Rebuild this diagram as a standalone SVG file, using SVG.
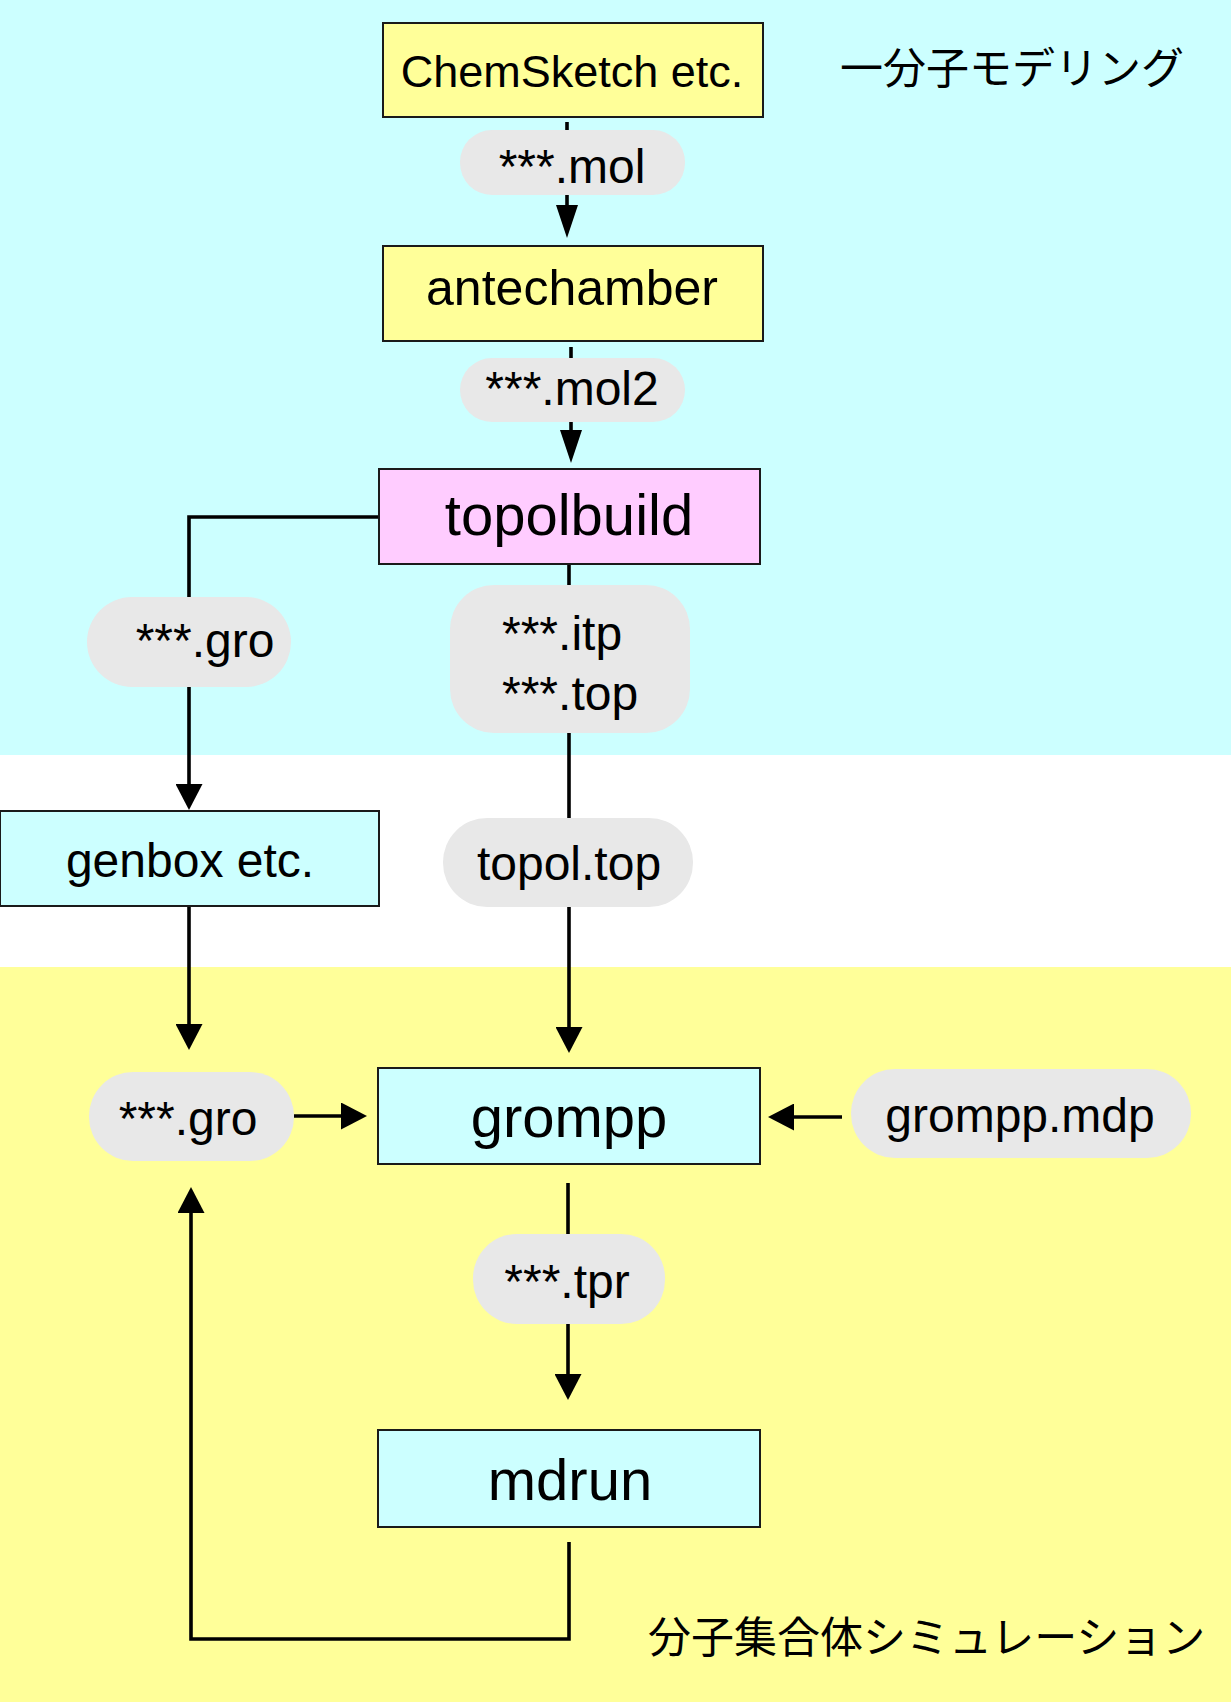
<svg xmlns="http://www.w3.org/2000/svg" width="1231" height="1702" viewBox="0 0 1231 1702">
<style>
.box{stroke:#1a1a1a;stroke-width:2}
.y{fill:#FFFF99}.c{fill:#CCFFFF}.p{fill:#FFCCFF}
.pill{fill:#E8E8E8}
text{font-family:"Liberation Sans",Arial,sans-serif;fill:#000}
.t48{font-size:48px}.t45{font-size:45px}.t50{font-size:50px}.t58{font-size:58px}
.jp{font-family:"Noto Sans CJK JP","Liberation Sans",sans-serif;font-size:43px}
.ln{fill:none;stroke:#000;stroke-width:3.6}
</style>
<defs>
<marker id="aL" viewBox="0 0 33 22" refX="23" refY="11" markerWidth="33" markerHeight="22" orient="auto" markerUnits="userSpaceOnUse"><path d="M0,0 L33,11 L0,22 z" fill="#000"/></marker>
<marker id="aS" viewBox="0 0 26 27" refX="16" refY="13.5" markerWidth="26" markerHeight="27" orient="auto" markerUnits="userSpaceOnUse"><path d="M0,0 L26,13.5 L0,27 z" fill="#000"/></marker>
</defs>
<g id="bands">
<rect x="0" y="0" width="1231" height="755" fill="#CCFFFF"/>
<rect x="0" y="755" width="1231" height="212" fill="#FFFFFF"/>
<rect x="0" y="967" width="1231" height="735" fill="#FFFF99"/>
<text class="jp" x="840" y="84">一分子モデリング</text>
<text class="jp" x="648" y="1653">分子集合体シミュレーション</text>
</g>
<g id="connectors">
<path class="ln" d="M567,122 V228" marker-end="url(#aL)"/>
<path class="ln" d="M571,347 V453" marker-end="url(#aL)"/>
<path class="ln" d="M379,517 H189 V800" marker-end="url(#aS)"/>
<path class="ln" d="M569,564 V1043" marker-end="url(#aS)"/>
<path class="ln" d="M189,906 V1040" marker-end="url(#aS)"/>
<path class="ln" d="M294,1116 H357" marker-end="url(#aS)"/>
<path class="ln" d="M842,1117 H778" marker-end="url(#aS)"/>
<path class="ln" d="M568,1183 V1390" marker-end="url(#aS)"/>
<path class="ln" d="M569,1542 V1639 H191 V1197" marker-end="url(#aS)"/>
</g>
<g id="chemsketch"><rect class="box y" x="383" y="23" width="380" height="94"/><text class="t45" x="572" y="87" text-anchor="middle">ChemSketch etc.</text></g>
<g id="mol"><rect class="pill" x="460" y="130" width="225" height="65" rx="32"/><text class="t48" x="572" y="183" text-anchor="middle">***.mol</text></g>
<g id="antechamber"><rect class="box y" x="383" y="246" width="380" height="95"/><text class="t50" x="572" y="305" text-anchor="middle">antechamber</text></g>
<g id="mol2"><rect class="pill" x="460" y="358" width="225" height="64" rx="32"/><text class="t48" x="572" y="405" text-anchor="middle">***.mol2</text></g>
<g id="topolbuild"><rect class="box p" x="379" y="469" width="381" height="95"/><text class="t58" x="569" y="535" text-anchor="middle">topolbuild</text></g>
<g id="gro1"><rect class="pill" x="87" y="597" width="204" height="90" rx="45"/><text class="t48" x="205" y="657" text-anchor="middle">***.gro</text></g>
<g id="itptop"><rect class="pill" x="450" y="585" width="240" height="148" rx="44"/><text class="t48" x="502" y="650">***.itp</text><text class="t48" x="502" y="710">***.top</text></g>
<g id="genbox"><rect class="box c" x="0" y="811" width="379" height="95"/><text class="t48" x="190" y="877" text-anchor="middle">genbox etc.</text></g>
<g id="topoltop"><rect class="pill" x="443" y="818" width="250" height="89" rx="44"/><text class="t48" x="569" y="880" text-anchor="middle">topol.top</text></g>
<g id="grompp"><rect class="box c" x="378" y="1068" width="382" height="96"/><text class="t58" x="569" y="1137" text-anchor="middle">grompp</text></g>
<g id="gro2"><rect class="pill" x="89" y="1072" width="205" height="89" rx="44"/><text class="t48" x="188" y="1135" text-anchor="middle">***.gro</text></g>
<g id="mdp"><rect class="pill" x="851" y="1069" width="340" height="89" rx="44"/><text class="t48" x="1020" y="1132" text-anchor="middle">grompp.mdp</text></g>
<g id="tpr"><rect class="pill" x="473" y="1234" width="192" height="90" rx="44"/><text class="t48" x="567" y="1298" text-anchor="middle">***.tpr</text></g>
<g id="mdrun"><rect class="box c" x="378" y="1430" width="382" height="97"/><text class="t58" x="570" y="1500" text-anchor="middle">mdrun</text></g>
</svg>
